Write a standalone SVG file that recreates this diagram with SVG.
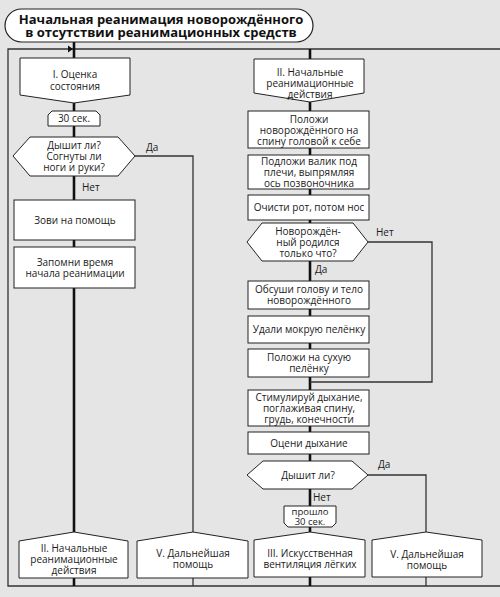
<svg xmlns="http://www.w3.org/2000/svg" width="500" height="597" viewBox="0 0 500 597">
<style>
.bg{fill:#e5e5e5}
.n{fill:#fff;stroke:#222;stroke-width:1}
.t{font-family:"Open Sans","Noto Sans",sans-serif;font-size:10px;fill:#1a1a1a;text-anchor:middle}
.s{font-size:9.5px}
.l{font-family:"Open Sans","Noto Sans",sans-serif;font-size:10px;fill:#1a1a1a}
.ti{font-family:"Open Sans","Noto Sans",sans-serif;font-size:13px;font-weight:bold;fill:#111;text-anchor:middle}
.thick{fill:none;stroke:#111;stroke-width:2.6}
.thin{fill:none;stroke:#333;stroke-width:1.3}
</style>
<rect class="bg" x="0" y="0" width="500" height="597"/>
<g id="connectors">
<polyline class="thin" points="500,49 8,49 8,586 500,586"/>
<polygon points="68,45.5 73,49 68,52.5" fill="#111"/>
<line class="thick" x1="74" y1="42" x2="74" y2="58"/>
<line class="thick" x1="74" y1="103" x2="74" y2="111"/>
<line class="thick" x1="74" y1="126" x2="74" y2="137"/>
<line class="thick" x1="74" y1="176" x2="74" y2="200"/>
<line class="thick" x1="74" y1="240" x2="74" y2="247"/>
<line class="thick" x1="74" y1="288" x2="74" y2="532"/>
<line class="thick" x1="74" y1="578" x2="74" y2="586"/>
<polyline class="thin" points="135,156 193,156 193,532"/>
<line class="thin" x1="193" y1="578" x2="193" y2="586"/>
<line class="thick" x1="310" y1="49" x2="310" y2="59"/>
<line class="thick" x1="310" y1="102" x2="310" y2="111"/>
<line class="thick" x1="310" y1="148" x2="310" y2="155"/>
<line class="thick" x1="310" y1="189" x2="310" y2="195"/>
<line class="thick" x1="310" y1="220" x2="310" y2="223"/>
<line class="thick" x1="310" y1="261" x2="310" y2="281"/>
<line class="thick" x1="310" y1="309" x2="310" y2="316"/>
<line class="thick" x1="310" y1="343" x2="310" y2="349"/>
<line class="thick" x1="310" y1="377" x2="310" y2="390"/>
<line class="thick" x1="310" y1="426" x2="310" y2="432"/>
<line class="thick" x1="310" y1="454" x2="310" y2="461"/>
<line class="thick" x1="310" y1="489" x2="310" y2="506"/>
<line class="thick" x1="310" y1="527" x2="310" y2="532"/>
<line class="thick" x1="310" y1="577" x2="310" y2="586"/>
<polyline class="thin" points="368,242 432,242 432,382 310,382"/>
<polyline class="thin" points="368,475 426,475 426,532"/>
<line class="thin" x1="426" y1="577" x2="426" y2="586"/>
<text class="l" x="146" y="151">Да</text>
<text class="l" x="82" y="191">Нет</text>
<text class="l" x="376" y="236">Нет</text>
<text class="l" x="315" y="273">Да</text>
<text class="l" x="378" y="468">Да</text>
<text class="l" x="313" y="501">Нет</text>
</g>
<g id="title">
<rect x="5" y="9" width="308" height="33" rx="16.5" fill="#fff" stroke="#222" stroke-width="1.2"/>
<text class="ti" x="161" y="24">Начальная реанимация новорождённого</text>
<text class="ti" x="161" y="37">в отсутствии реанимационных средств</text>
</g>
<g id="n1">
<polygon class="n" points="20,58 130,58 130,95 74,103 20,95"/>
<text class="t" x="75" y="78">I. Оценка</text>
<text class="t" x="75" y="90">состояния</text>
</g>
<g id="n2">
<polygon class="n" points="48,126 48,115 52,111 96,111 100,115 100,126"/>
<text class="t" x="74" y="122">30 сек.</text>
</g>
<g id="n3">
<polygon class="n" points="13,156 30,137 118,137 135,156 118,176 30,176"/>
<text class="t" x="74" y="148.5">Дышит ли?</text>
<text class="t" x="74" y="159.5">Согнуты ли</text>
<text class="t" x="74" y="170.5">ноги и руки?</text>
</g>
<g id="n4">
<rect class="n" x="14" y="200" width="121" height="40"/>
<text class="t" x="75" y="224">Зови на помощь</text>
</g>
<g id="n5">
<rect class="n" x="14" y="247" width="121" height="41"/>
<text class="t" x="75" y="266">Запомни время</text>
<text class="t" x="75" y="277">начала реанимации</text>
</g>
<g id="n6">
<polygon class="n" points="19,541 74,532 128,541 128,578 19,578"/>
<text class="t" x="74" y="551.5">II. Начальные</text>
<text class="t" x="74" y="562.5">реанимационные</text>
<text class="t" x="74" y="573.5">действия</text>
</g>
<g id="n7">
<polygon class="n" points="137,541 193,532 248,541 248,578 137,578"/>
<text class="t" x="193" y="557">V. Дальнейшая</text>
<text class="t" x="193" y="568">помощь</text>
</g>
<g id="r1">
<polygon class="n" points="254,59 364,59 364,93 310,102 254,93"/>
<text class="t" x="310" y="75.5">II. Начальные</text>
<text class="t" x="310" y="86.5">реанимационные</text>
<text class="t" x="310" y="97.5">действия</text>
</g>
<g id="r2">
<rect class="n" x="248" y="111" width="121" height="37"/>
<text class="t" x="309" y="122.5">Положи</text>
<text class="t" x="309" y="133.5">новорождённого на</text>
<text class="t" x="309" y="144.5">спину головой к себе</text>
</g>
<g id="r3">
<rect class="n" x="248" y="155" width="121" height="34"/>
<text class="t" x="309" y="164.5">Подложи валик под</text>
<text class="t" x="309" y="175.5">плечи, выпрямляя</text>
<text class="t" x="309" y="186.5">ось позвоночника</text>
</g>
<g id="r4">
<rect class="n" x="248" y="195" width="121" height="25"/>
<text class="t" x="309" y="211">Очисти рот, потом нос</text>
</g>
<g id="r5">
<polygon class="n" points="247,242 262,223 353,223 368,242 353,261 262,261"/>
<text class="t" x="308" y="234.5">Новорождён-</text>
<text class="t" x="308" y="245.5">ный родился</text>
<text class="t" x="308" y="256.5">только что?</text>
</g>
<g id="r6">
<rect class="n" x="248" y="281" width="121" height="28"/>
<text class="t" x="309" y="293">Обсуши голову и тело</text>
<text class="t" x="309" y="304">новорождённого</text>
</g>
<g id="r7">
<rect class="n" x="248" y="316" width="121" height="27"/>
<text class="t" x="309" y="332.5">Удали мокрую пелёнку</text>
</g>
<g id="r8">
<rect class="n" x="248" y="349" width="121" height="28"/>
<text class="t" x="309" y="361">Положи на сухую</text>
<text class="t" x="309" y="372">пелёнку</text>
</g>
<g id="r9">
<rect class="n" x="248" y="390" width="121" height="36"/>
<text class="t" x="309" y="400.5">Стимулируй дыхание,</text>
<text class="t" x="309" y="411.5">поглаживая спину,</text>
<text class="t" x="309" y="422.5">грудь, конечности</text>
</g>
<g id="r10">
<rect class="n" x="248" y="432" width="121" height="22"/>
<text class="t" x="309" y="446.5">Оцени дыхание</text>
</g>
<g id="r11">
<polygon class="n" points="247,475 263,461 352,461 368,475 352,489 263,489"/>
<text class="t" x="308" y="478.5">Дышит ли?</text>
</g>
<g id="r12">
<polygon class="n" points="284,506 336,506 336,523 332,527 288,527 284,523"/>
<text class="t s" x="310" y="514.5">прошло</text>
<text class="t s" x="310" y="524.5">30 сек.</text>
</g>
<g id="r13">
<polygon class="n" points="254,540 310,532 365,540 365,577 254,577"/>
<text class="t" x="310" y="556.5">III. Искусственная</text>
<text class="t" x="310" y="567.5">вентиляция лёгких</text>
</g>
<g id="r14">
<polygon class="n" points="372,540 426,532 482,540 482,577 372,577"/>
<text class="t" x="427" y="557.5">V. Дальнейшая</text>
<text class="t" x="427" y="568.5">помощь</text>
</g>
</svg>
